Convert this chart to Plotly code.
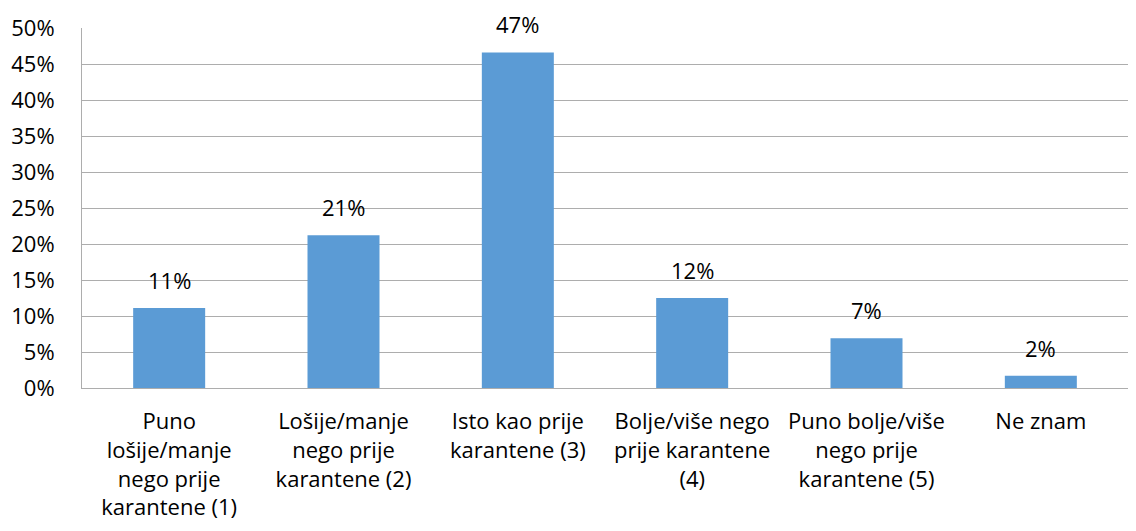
import plotly.graph_objects as go

categories = [
    "Puno<br>lošije/manje<br>nego prije<br>karantene (1)",
    "Lošije/manje<br>nego prije<br>karantene (2)",
    "Isto kao prije<br>karantene (3)",
    "Bolje/više nego<br>prije karantene<br>(4)",
    "Puno bolje/više<br>nego prije<br>karantene (5)",
    "Ne znam",
]
values = [0.111, 0.212, 0.466, 0.125, 0.069, 0.017]
labels = ["11%", "21%", "47%", "12%", "7%", "2%"]

FONT = "Open Sans"
FS = 22
BAR = "#5B9BD5"
GRID = "#ADADAD"

fig = go.Figure()
fig.add_trace(go.Bar(x=categories, y=values, marker=dict(color=BAR, line=dict(width=0)),
                     hoverinfo="skip"))

for c, v, t in zip(categories, values, labels):
    fig.add_annotation(x=c, y=v, text=t, showarrow=False, yanchor="bottom",
                       yshift=11, font=dict(family=FONT, size=FS, color="#000000"))

fig.update_layout(
    width=1120, height=515,
    margin=dict(l=74, r=0, t=20, b=135, autoexpand=False),
    paper_bgcolor="white", plot_bgcolor="white",
    bargap=0.587,
    showlegend=False,
    font=dict(family=FONT, size=FS, color="#000000"),
)
fig.update_yaxes(range=[0, 0.5], dtick=0.05, tickformat=".0%", showgrid=True,
                 gridcolor=GRID, gridwidth=1, showline=True, linecolor=GRID, linewidth=1,
                 zeroline=True, zerolinecolor=GRID, zerolinewidth=1, ticks="",
                 ticklabelstandoff=22,
                 tickfont=dict(family=FONT, size=FS, color="#000000"))
fig.update_xaxes(showline=True, linecolor=GRID, linewidth=1, ticks="", tickangle=0,
                 ticklabelstandoff=14,
                 tickfont=dict(family=FONT, size=FS, color="#000000"))

fig.write_html("out.html")
